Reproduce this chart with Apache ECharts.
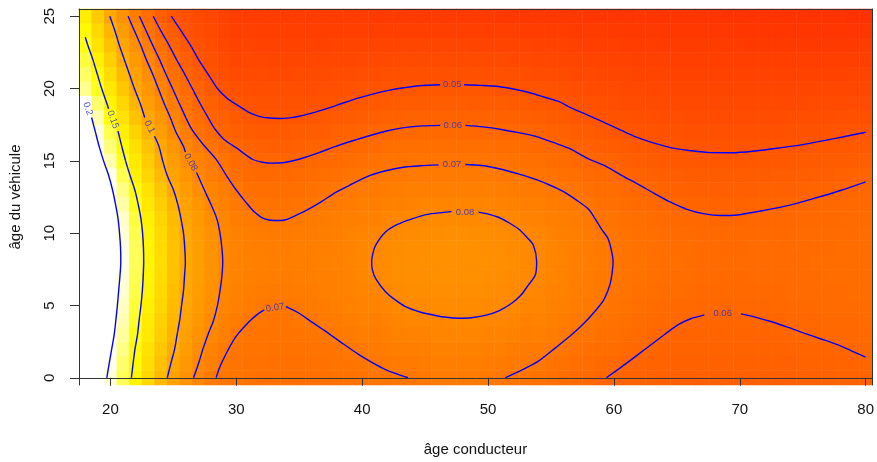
<!DOCTYPE html>
<html><head><meta charset="utf-8">
<script src="https://cdn.jsdelivr.net/npm/echarts@6/dist/echarts.min.js"></script>
<style>html,body{margin:0;padding:0;background:#fff}#c{width:877px;height:462px}</style>
</head><body><div id="c"></div>
<script>
const ageConducteur = [18,19,20,21,22,23,24,25,26,27,28,29,30,31,32,33,34,35,36,37,38,39,40,41,42,43,44,45,46,47,48,49,50,51,52,53,54,55,56,57,58,59,60,61,62,63,64,65,66,67,68,69,70,71,72,73,74,75,76,77,78,79,80];
const ageVehicule = [0,1,2,3,4,5,6,7,8,9,10,11,12,13,14,15,16,17,18,19,20,21,22,23,24,25];
const xTickValues = [20,30,40,50,60,70,80];
const yTickValues = [0,5,10,15,20,25];

// fitted values (per mille); drivers aged 18..29, one row per vehicle age 0..25
const zRowsAge18to29 = [
[251,220,193,167,144,127,109,95,86,78,72,69],
[255,225,197,171,147,130,113,98,89,80,75,70],
[262,231,203,176,149,133,117,102,92,83,77,72],
[265,236,208,181,154,137,121,105,94,86,79,75],
[270,240,212,185,158,139,123,108,96,89,82,76],
[272,243,215,188,161,141,126,110,98,91,84,78],
[275,246,217,191,164,143,128,112,99,92,85,79],
[277,249,220,193,166,144,129,114,99,93,86,80],
[278,250,222,195,168,145,130,114,100,93,86,80],
[277,249,222,195,167,144,129,114,99,93,86,80],
[276,248,220,192,165,143,128,112,99,92,85,79],
[273,245,217,189,162,141,125,110,97,90,83,79],
[268,238,210,183,155,137,121,106,95,88,80,76],
[262,232,204,176,149,133,116,100,92,84,78,74],
[255,225,196,166,142,126,109,96,88,80,74,70],
[247,213,184,156,137,120,103,92,83,77,72,68],
[233,203,174,148,131,114,99,88,79,73,68,64],
[224,194,165,141,124,106,93,82,74,67,62,59],
[216,184,153,133,114,98,88,78,70,64,59,57],
[202,171,144,126,107,93,83,74,67,61,57,53],
[178,156,137,117,99,88,78,70,63,58,53,49],
[170,149,129,110,95,84,74,66,60,54,49,46],
[162,142,122,102,90,79,69,62,56,50,47,44],
[154,134,114,97,85,74,65,58,52,48,45,42],
[147,127,107,92,79,69,60,54,49,46,43,40],
[140,119,99,86,73,64,56,50,47,44,41,38]
];
// fitted values (per mille); drivers aged 30..80, one column per driver age, vehicle age 0..25
const zColsAge30to80 = [
[68,68,69,70,73,75,76,77,77,77,76,74,72,70,66,63,60,56,53,50,47,44,41,39,37,36],
[67,67,68,69,70,73,74,75,76,75,74,72,69,66,63,61,58,54,51,49,46,44,42,40,38,35],
[66,67,68,69,70,71,73,74,75,74,73,71,68,65,62,60,57,53,50,48,46,44,42,39,37,35],
[66,66,67,68,69,70,72,74,74,74,72,70,67,65,62,60,56,53,50,48,46,43,41,39,37,35],
[65,66,67,68,69,70,72,73,74,73,72,70,67,65,62,60,56,53,50,48,46,43,41,39,37,35],
[65,66,67,69,70,71,73,74,74,74,73,71,68,65,63,60,57,54,50,48,46,44,41,39,37,35],
[66,67,68,69,70,72,73,74,75,74,73,72,69,67,64,61,58,55,51,48,46,44,42,39,37,35],
[66,67,68,70,72,73,75,75,76,75,74,73,71,68,65,62,59,55,52,49,47,44,42,39,37,35],
[67,68,69,71,73,75,76,76,77,76,75,74,72,70,66,63,60,57,53,50,47,45,42,40,37,35],
[67,69,70,72,74,76,77,77,78,77,76,75,73,71,68,64,61,58,54,51,48,45,42,40,37,35],
[68,69,71,74,76,77,78,79,79,79,78,76,75,72,69,66,62,59,55,52,49,46,43,40,37,35],
[69,70,72,73,75,77,78,80,81,80,78,76,74,72,70,67,63,60,56,53,49,46,43,40,37,34],
[69,71,73,75,77,78,80,82,82,82,80,78,76,73,71,68,64,60,57,53,50,47,43,40,37,34],
[70,72,74,76,78,80,82,83,83,83,81,79,76,74,71,68,65,61,57,54,50,47,44,41,37,34],
[70,72,74,77,79,81,83,84,84,84,82,80,77,75,72,69,65,61,58,54,51,47,44,41,37,34],
[71,73,75,77,79,81,83,84,85,84,83,81,78,75,72,69,65,62,58,54,51,47,44,41,37,34],
[72,74,76,78,79,82,84,85,85,85,83,81,78,75,72,69,65,62,58,55,51,47,44,41,37,34],
[72,74,76,78,80,82,84,85,85,85,84,81,78,75,72,69,65,62,58,55,51,47,44,41,37,34],
[72,74,76,78,80,82,84,85,85,85,84,81,78,75,72,69,65,62,58,55,51,47,44,41,37,34],
[72,74,76,78,80,82,84,85,85,85,83,81,78,75,72,69,65,61,58,54,51,47,44,40,37,34],
[71,73,75,77,79,81,83,84,85,84,83,81,78,75,72,69,65,61,58,54,51,47,44,40,37,34],
[70,72,75,77,79,81,82,83,84,83,82,80,77,74,71,68,64,61,57,54,50,47,44,40,37,33],
[69,71,73,76,78,80,81,82,83,82,81,79,76,73,71,67,64,60,57,53,50,47,43,40,37,33],
[68,71,72,74,76,78,80,81,81,81,80,77,75,72,70,66,63,60,56,53,49,46,43,40,36,33],
[67,70,72,75,77,78,79,80,80,80,79,77,75,72,69,66,62,59,55,52,49,45,42,39,36,33],
[66,68,71,73,75,76,77,78,78,78,77,75,73,71,68,64,61,58,54,51,48,45,42,39,36,33],
[64,67,69,71,73,75,76,76,77,76,75,74,72,70,66,63,60,57,53,50,47,44,41,39,36,33],
[63,65,67,69,71,73,74,75,75,75,74,73,71,68,65,61,58,55,52,49,46,43,41,38,35,33],
[62,64,66,68,70,71,73,73,74,73,72,71,69,66,63,60,57,54,50,48,45,43,40,37,35,32],
[60,62,64,66,68,70,71,71,72,71,70,68,66,64,62,59,56,52,49,47,44,42,40,37,35,32],
[59,62,64,66,67,68,69,70,70,70,69,68,66,64,61,58,54,51,48,46,44,41,39,37,34,32],
[58,60,62,64,66,67,68,68,68,68,67,66,64,62,59,56,53,50,48,45,43,41,39,36,34,32],
[58,59,61,63,64,65,66,67,67,67,66,65,63,61,58,55,52,49,47,45,43,40,38,36,34,32],
[57,58,60,61,63,64,65,66,66,66,65,64,62,60,57,54,51,49,46,44,42,40,38,36,34,31],
[57,58,59,60,62,63,64,65,65,65,64,63,61,58,56,53,50,48,46,44,42,40,38,35,33,31],
[56,57,58,59,61,62,64,64,65,64,63,62,60,57,55,52,50,48,46,43,41,39,37,35,33,31],
[56,57,58,59,60,62,63,64,64,64,63,61,59,57,54,52,49,47,45,43,41,39,37,35,33,31],
[56,57,58,59,60,61,62,63,63,63,62,61,59,56,54,51,49,47,45,43,41,39,37,35,33,31],
[56,57,58,59,60,61,62,63,63,63,62,60,58,56,54,51,49,47,45,43,41,39,37,35,33,31],
[56,57,58,59,60,61,62,62,63,62,62,60,58,56,54,51,49,47,45,43,41,39,37,35,33,30],
[56,57,58,59,60,61,62,62,63,62,62,60,58,56,54,51,49,47,45,43,41,39,37,35,32,30],
[56,57,58,59,60,61,62,63,63,63,62,61,59,56,54,52,49,47,45,43,41,39,37,34,32,30],
[56,57,58,59,60,61,62,63,63,63,62,61,59,57,54,52,50,47,45,43,41,39,37,34,32,30],
[56,57,58,59,60,62,62,63,63,63,62,61,59,57,55,52,50,47,45,43,41,39,37,34,32,30],
[56,57,59,60,61,62,63,63,63,63,62,61,60,57,55,52,50,48,46,43,41,39,37,34,32,30],
[57,58,59,60,61,62,63,63,63,63,63,62,60,58,55,53,50,48,46,43,41,39,37,34,32,30],
[57,58,59,60,61,62,63,63,64,63,63,62,61,59,56,53,51,48,46,44,41,39,37,34,32,30],
[57,58,59,61,62,63,63,64,64,63,63,62,61,59,56,54,51,49,46,44,42,39,37,34,32,30],
[58,59,60,61,62,63,63,64,64,64,63,62,61,60,57,54,52,49,47,44,42,39,37,34,32,30],
[58,59,60,61,62,63,64,64,64,64,63,63,62,60,58,55,52,50,47,45,42,40,37,34,32,29],
[59,60,61,62,63,63,64,64,64,64,64,63,62,61,59,56,53,50,47,45,42,40,37,35,32,29]
];

// contour lines, [driver age, vehicle age]; split where R puts its labels
const c200 = [[18.5,18.0],[18.8,17.0],[19.1,16.0],[19.45,15.0],[19.85,14.0],[20.16,13.0],[20.4,12.0],[20.6,11.0],[20.72,10.0],[20.8,9.0],[20.82,8.0],[20.75,7.0],[20.65,6.0],[20.55,5.0],[20.43,4.0],[20.3,3.0],[20.1,2.0],[19.9,1.0],[19.71,0]];
const c150a = [[18.0,23.55],[18.2,23.0],[18.6,22.0],[18.95,21.0],[19.3,20.0],[19.7,19.0],[19.85,18.6]];
const c150b = [[20.6,17.05],[20.9,16.0],[21.2,15.0],[21.55,14.0],[21.93,13.0],[22.2,12.0],[22.42,11.0],[22.55,10.0],[22.62,9.0],[22.64,8.0],[22.6,7.0],[22.53,6.0],[22.42,5.0],[22.28,4.0],[22.15,3.0],[21.95,2.0],[21.8,1.0],[21.66,0]];
const c100a = [[19.95,25],[20.35,24],[20.7,23],[21.1,22],[21.5,21],[21.9,20],[22.35,19],[22.72,18.0]];
const c100b = [[23.5,16.7],[23.85,16.0],[24.15,15.0],[24.5,14.0],[25.0,13.0],[25.35,12.0],[25.6,11.0],[25.8,10.0],[25.9,9.0],[25.95,8.0],[25.88,7.0],[25.8,6.0],[25.65,5.0],[25.5,4.0],[25.3,3.0],[25.1,2.0],[24.8,1.0],[24.51,0]];
const c080a = [[21.4,25],[21.9,24],[22.4,23],[22.85,22],[23.35,21],[23.8,20],[24.25,19],[24.75,18],[25.2,17],[25.8,16],[25.95,15.6]];
const c080b = [[26.84,14.2],[27.45,13.0],[27.98,12.0],[28.45,11.0],[28.7,10.0],[28.85,9.0],[28.92,8.0],[28.85,7.0],[28.7,6.0],[28.5,5.0],[28.2,4.0],[27.75,3.0],[27.35,2.0],[27.0,1.0],[26.6,0]];
const c080ring = [[49.24,11.45],[50.1,11.3],[50.82,11.1],[51.6,10.75],[52.41,10.3],[53.1,9.7],[53.6,9.16],[53.86,8.02],[53.75,7.1],[53.2,6.41],[52.6,5.7],[51.88,5.15],[50.9,4.65],[49.77,4.31],[48.7,4.15],[47.66,4.12],[46.7,4.18],[45.81,4.31],[44.6,4.55],[43.44,4.92],[42.6,5.4],[41.85,5.95],[41.06,6.87],[40.8,7.5],[40.75,8.02],[40.85,8.6],[41.06,9.16],[41.85,10.08],[42.8,10.6],[43.96,10.99],[45.2,11.3],[47.1,11.49]];
const c070a = [[22.3,25],[22.83,24],[23.35,23],[23.9,22],[24.4,21],[24.93,20],[25.45,19],[25.98,18],[26.45,17.2],[27.4,16.1],[28.4,15.1],[29.2,14.0],[29.98,13.0],[30.7,12.2],[31.4,11.5],[32.2,11.0],[33.0,10.87],[33.94,10.93],[34.99,11.33],[35.78,11.68],[36.8,12.2],[37.9,12.82],[39.2,13.4],[40.53,13.96],[41.8,14.3],[43.15,14.54],[44.6,14.66],[46.07,14.72]];
const c070b = [[48.19,14.75],[49.5,14.68],[51.06,14.42],[52.4,14.1],[53.73,13.74],[54.7,13.4],[55.6,13.05],[56.1,12.82],[57.0,12.3],[57.95,11.68],[58.5,11.0],[59.0,10.3],[59.53,9.62],[59.8,8.8],[59.93,8.02],[59.85,7.2],[59.67,6.41],[59.2,5.4],[58.48,4.58],[57.6,3.75],[56.63,2.97],[55.4,2.1],[54.0,1.15],[52.7,0.55],[51.36,0]];
const c070lowA = [[28.4,0],[28.66,0.69],[29.3,1.85],[29.98,2.86],[31.03,3.89],[31.7,4.4],[32.22,4.69]];
const c070lowB = [[33.94,4.92],[34.99,4.46],[36.0,3.85],[37.1,3.21],[38.4,2.4],[39.74,1.6],[40.8,1.05],[41.85,0.57],[42.8,0.25],[43.64,0]];
const c060a = [[23.4,25],[24.0,24],[24.65,23],[25.25,22],[25.9,21],[26.5,20],[27.1,19],[27.75,18],[28.3,17.2],[29.0,16.5],[29.98,15.91],[31.27,15.11],[32.1,14.9],[32.85,14.84],[33.7,14.87],[34.44,14.99],[35.5,15.25],[36.57,15.57],[37.9,16.0],[39.19,16.37],[40.5,16.72],[41.85,17.05],[43.2,17.28],[44.5,17.4],[46.2,17.45]];
const c060b = [[48.2,17.45],[49.6,17.35],[51.06,17.17],[52.4,16.95],[53.73,16.71],[54.7,16.42],[55.6,16.14],[56.6,15.8],[57.95,15.15],[59.3,14.65],[60.6,14.0],[61.9,13.39],[63.2,12.75],[64.5,12.14],[65.8,11.65],[67.2,11.33],[68.5,11.22],[69.8,11.26],[71.8,11.55],[73.8,11.9],[75.9,12.4],[78.0,12.95],[80.0,13.55]];
const c060lowA = [[59.4,0],[60.6,0.75],[61.91,1.6],[63.5,2.65],[65.08,3.66],[66.1,4.08],[67.19,4.35]];
const c060lowB = [[70.09,4.42],[71.3,4.18],[72.46,3.89],[73.8,3.5],[75.1,3.09],[76.4,2.7],[77.75,2.29],[78.9,1.85],[80.0,1.42]];
const c050a = [[24.83,25],[25.6,24],[26.35,23],[27.0,22],[27.75,21],[28.5,20],[29.3,19.3],[30.24,18.77],[31.0,18.35],[31.82,18.08],[32.6,17.96],[33.41,17.93],[34.2,17.97],[34.99,18.08],[36.2,18.35],[37.37,18.66],[38.5,19.0],[39.74,19.35],[40.9,19.63],[42.1,19.87],[43.3,20.05],[44.5,20.19],[46.2,20.26]];
const c050b = [[48.1,20.26],[49.4,20.22],[50.8,20.14],[52.1,19.95],[53.4,19.69],[54.5,19.4],[55.6,19.11],[56.6,18.66],[57.95,18.15],[59.3,17.63],[60.6,17.1],[61.9,16.6],[63.2,16.22],[64.5,15.91],[66.1,15.7],[67.7,15.57],[69.4,15.56],[71.2,15.68],[73.2,15.9],[75.1,16.14],[77.6,16.55],[80.0,16.98]];
// contour labels: [driver age, vehicle age, text, angle]
const contourLabels = [
  [18.2,18.6,'0.2',-72],[20.2,17.85,'0.15',-70],[23.1,17.35,'0.1',-63],[26.37,14.9,'0.08',-60],
  [47.15,20.26,'0.05',0],[47.2,17.45,'0.06',0],[47.13,14.74,'0.07',0],[48.17,11.47,'0.08',0],
  [33.08,4.84,'0.07',8],[68.64,4.45,'0.06',0]
];

const heatData = [];
for (let yi = 0; yi < ageVehicule.length; yi++) {
  for (let xi = 0; xi < ageConducteur.length; xi++) {
    const age = ageConducteur[xi];
    const pm = age < 30 ? zRowsAge18to29[yi][xi] : zColsAge30to80[age - 30][yi];
    heatData.push([xi, yi, pm / 1000]);
  }
}
const segments = [c200,c150a,c150b,c100a,c100b,c080a,c080b,c080ring,c070a,c070b,c070lowA,c070lowB,c060a,c060b,c060lowA,c060lowB,c050a,c050b];

const FONT = 'Liberation Sans, Arial, Helvetica, sans-serif';
const chart = echarts.init(document.getElementById('c'), null, {renderer: 'canvas'});
const xTick = (i, v) => xTickValues.includes(Number(v));
const yTick = (i, v) => yTickValues.includes(Number(v));

const series = [{
  type: 'heatmap', xAxisIndex: 0, yAxisIndex: 0, data: heatData,
  itemStyle: {borderWidth: 0}, emphasis: {disabled: true}, silent: true, progressive: 0
}];
segments.forEach(seg => series.push({
  type: 'line', xAxisIndex: 1, yAxisIndex: 1, data: seg, symbol: 'none', showSymbol: false,
  smooth: 0.3, silent: true, z: 3, lineStyle: {color: '#0000ff', width: 1.4}
}));
series.push({
  type: 'scatter', xAxisIndex: 1, yAxisIndex: 1, symbolSize: 1, silent: true, z: 4,
  itemStyle: {color: 'rgba(0,0,0,0)'},
  label: {show: true, position: 'inside', color: '#2a2ac0', fontSize: 9.5, fontFamily: FONT},
  data: contourLabels.map(l => ({value: [l[0], l[1]], label: {formatter: l[2], rotate: l[3]}}))
});

chart.setOption({
  animation: false,
  backgroundColor: '#ffffff',
  grid: {left: 79, top: 9, width: 796, height: 378, containLabel: false},
  visualMap: {
    type: 'continuous', seriesIndex: 0, min: 0, max: 0.2, show: false, calculable: false,
    inRange: {color: ['#FF0000', '#FF5500', '#FFAA00', '#FFFF00', '#FFFFFF']},
    outOfRange: {color: ['#FFFFFF']}
  },
  xAxis: [{
    type: 'category', data: ageConducteur.map(String), position: 'bottom', z: 6,
    axisLine: {show: true, lineStyle: {color: '#333', width: 1}},
    axisTick: {show: true, alignWithLabel: true, interval: xTick, length: 8, lineStyle: {color: '#333'}},
    axisLabel: {interval: xTick, margin: 17, fontSize: 15, color: '#111', fontFamily: FONT},
    splitLine: {show: false},
    name: 'âge conducteur', nameLocation: 'middle', nameGap: 57,
    nameTextStyle: {fontSize: 15, color: '#111', fontFamily: FONT}
  }, {
    type: 'value', min: 17.5, max: 80.5, position: 'top', z: 6,
    axisLine: {show: true, lineStyle: {color: '#333', width: 1}},
    axisTick: {show: false}, axisLabel: {show: false}, splitLine: {show: false}
  }],
  yAxis: [{
    type: 'category', data: ageVehicule.map(String), position: 'left', z: 6,
    axisLine: {show: true, lineStyle: {color: '#333', width: 1}},
    axisTick: {show: true, alignWithLabel: true, interval: yTick, length: 9, lineStyle: {color: '#333'}},
    axisLabel: {interval: yTick, rotate: 90, margin: 22, fontSize: 15, color: '#111', fontFamily: FONT},
    splitLine: {show: false},
    name: 'âge du véhicule', nameLocation: 'middle', nameGap: 56, nameRotate: 90,
    nameTextStyle: {fontSize: 15, color: '#111', fontFamily: FONT}
  }, {
    type: 'value', min: -0.5, max: 25.5, position: 'right', z: 6,
    axisLine: {show: true, lineStyle: {color: '#333', width: 1}},
    axisTick: {show: false}, axisLabel: {show: false}, splitLine: {show: false}
  }],
  series: series
});
</script>
</body></html>
